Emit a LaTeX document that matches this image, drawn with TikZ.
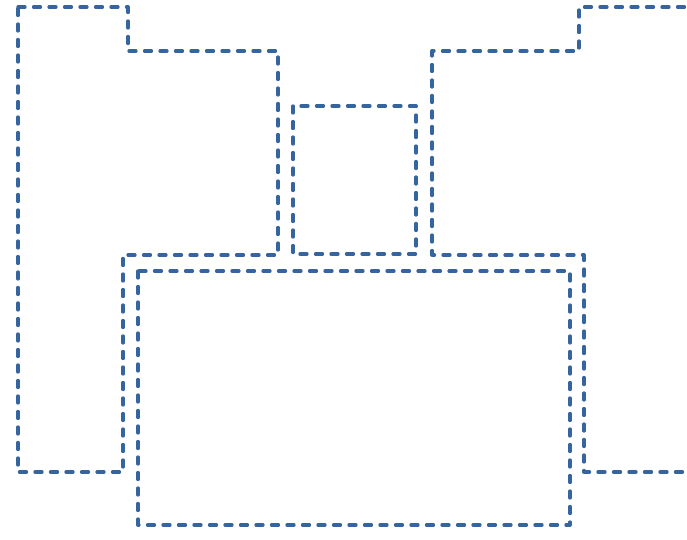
\documentclass[tikz,border=0pt]{standalone}
\definecolor{zoneblue}{RGB}{52,101,158}
\tikzset{zone/.style={draw=zoneblue,line width=3.3pt,line cap=round,line join=round,dash pattern=on 7pt off 8.5pt}}
\begin{document}
\begin{tikzpicture}[x=1pt,y=-1pt]
\useasboundingbox (0,0) rectangle (687,539);
\clip (0,0) rectangle (687,539);
% left wing
\draw[zone] (18,7) -- (128,7) -- (128,51) -- (278,51) -- (278,255) -- (123,255) -- (123,472) -- (18,472) -- cycle;
% right wing (runs off the right edge)
\draw[zone] (700,7) -- (579,7) -- (579,51) -- (432,51) -- (432,255) -- (584,255) -- (584,472) -- (700,472);
% small middle room
\draw[zone] (293,106) rectangle (416,254);
% large lower room
\draw[zone] (138,271) rectangle (570,525);
\end{tikzpicture}
\end{document}
